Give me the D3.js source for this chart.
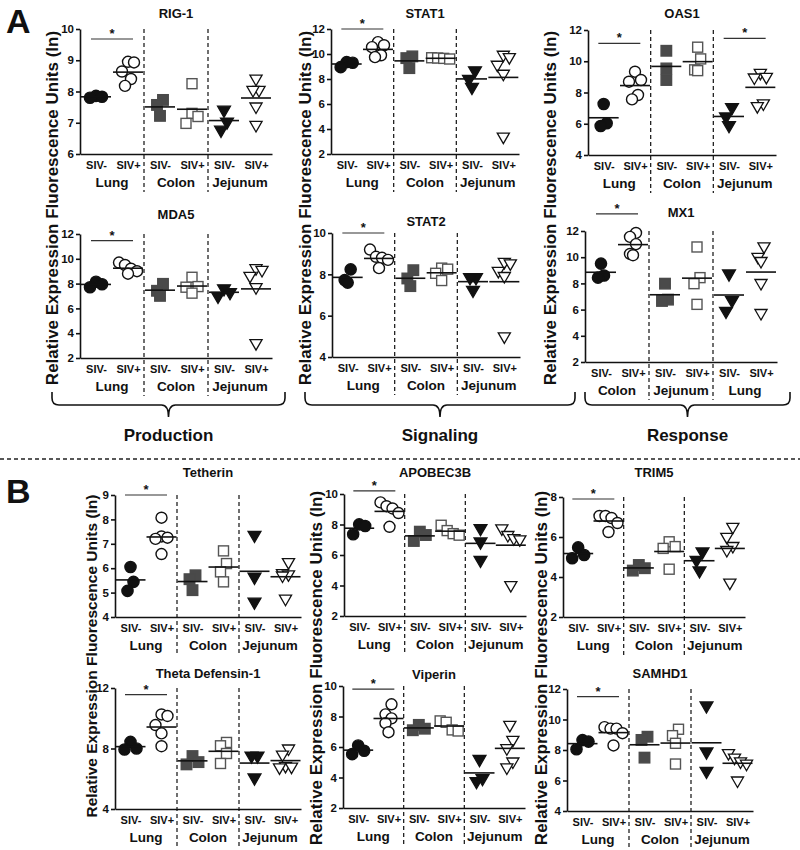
<!DOCTYPE html>
<html><head><meta charset="utf-8">
<script src="https://cdn.jsdelivr.net/npm/d3@7/dist/d3.min.js"></script>
<style>
body{margin:0;background:#fff}
text{font-family:Arial,"Liberation Sans",sans-serif;font-weight:bold;fill:#111}
</style>
</head><body>
<svg id="c" width="800" height="850"></svg>
<script>
// ---------------- DATA ----------------
const groupLabels = ["SIV-", "SIV+"];
const tissues = ["Lung", "Colon", "Jejunum"];
const tissuesMX1 = ["Colon", "Jejunum", "Lung"];
const genes = ["RIG-1","STAT1","OAS1","MDA5","STAT2","MX1","Tetherin","APOBEC3B","TRIM5","Theta Defensin-1","Viperin","SAMHD1"];
const categoryGroups = ["Production", "Signaling", "Response"];
const yLabel = "Relative Expression Fluorescence Units (ln)";

// six columns per gene: tissue1 SIV-, tissue1 SIV+, tissue2 SIV-, tissue2 SIV+, tissue3 SIV-, tissue3 SIV+
const rig1Values = [[7.86,7.83,7.80],[8.95,8.93,8.64,8.40,8.18],[7.73,7.57,7.22],[8.25,7.30,7.20,6.98],[7.41,7.03,6.77],[8.41,8.05,8.05,7.52,6.93]];
const stat1Values = [[9.35,9.30,8.95],[10.95,10.70,10.55,9.90,9.75],[9.81,9.67,8.87],[9.70,9.68,9.65,9.60],[8.68,7.99,7.35],[9.94,9.75,9.14,8.42,3.39]];
const oas1Values = [[7.26,6.03,5.86],[9.33,8.80,8.69,7.84,7.56],[10.67,9.54,8.80],[10.90,10.15,9.45,9.40],[7.05,6.45,5.90],[9.26,9.00,8.96,7.30,7.13]];
const mda5Values = [[8.15,7.95,7.70],[9.70,9.50,9.20,9.00,8.80],[7.98,7.42,7.01],[8.51,7.76,7.71,7.23],[7.60,7.30,7.00],[9.24,9.10,8.62,7.71,3.20]];
const stat2Values = [[8.24,7.72,7.60],[9.20,8.85,8.80,8.70,8.30],[8.20,7.80,7.43],[8.30,8.25,8.05,7.70],[7.85,7.85,7.24],[8.60,8.53,8.17,7.92,5.00]];
const mx1Values = [[9.51,8.60,8.44],[11.85,11.55,11.00,10.25,10.15],[7.98,6.76,6.66],[10.78,8.44,7.98,6.40],[8.74,6.71,5.89],[10.83,10.02,9.71,8.03,5.74]];
const tetherinValues = [[6.05,5.44,5.07],[8.07,7.30,7.25,7.20,6.58],[5.71,5.55,5.10],[6.71,6.19,5.85,5.44],[7.36,5.64,4.62],[6.25,5.80,5.75,5.70,4.75]];
const apobec3bValues = [[8.01,7.90,7.36],[9.45,9.20,9.05,8.75,7.85],[7.53,7.31,6.92],[7.95,7.60,7.40,7.30],[7.75,6.87,5.67],[7.75,7.31,7.10,7.03,4.03]];
const trim5Values = [[5.48,5.10,4.94],[7.05,7.05,6.95,6.70,6.25],[4.60,4.44,4.32],[5.76,5.52,5.43,4.39],[5.27,4.85,4.32],[6.51,6.01,5.55,5.35,3.72]];
const thetaValues = [[8.44,8.00,7.93],[10.25,10.15,9.55,9.00,8.15],[7.50,7.10,6.95],[8.40,8.18,7.67,7.01],[7.52,7.52,6.07],[8.00,7.60,6.85,6.80,6.75]];
const viperinValues = [[6.10,5.75,5.53],[8.80,8.14,7.88,7.56,6.97],[7.45,7.20,7.10],[7.71,7.62,7.12,7.05],[5.20,3.95,3.75],[7.45,6.47,5.92,5.05,4.66]];
const samhd1Values = [[8.65,8.55,8.05],[9.50,9.40,9.40,9.10,8.30],[8.87,8.66,7.50],[9.36,8.94,8.44,7.08],[10.91,7.89,6.62],[7.80,7.50,7.25,7.10,6.00]];

const rig1Ticks = [6,7,8,9,10];
const stat1Ticks = [2,4,6,8,10,12];
const oas1Ticks = [4,6,8,10,12];
const mda5Ticks = [2,4,6,8,10,12];
const stat2Ticks = [4,6,8,10];
const mx1Ticks = [2,4,6,8,10,12];
const tetherinTicks = [4,5,6,7,8,9];
const apobec3bTicks = [2,4,6,8,10];
const trim5Ticks = [2,4,6,8];
const thetaTicks = [4,8,12];
const viperinTicks = [2,4,6,8,10];
const samhd1Ticks = [4,6,8,10,12];

// significance: tissue index with "*" and level (data units) of the bar
const sigTissues = [[0],[0],[0,2],[0],[0],[0],[0],[0],[0],[0],[0],[0]];
const sigLevels = [[9.68],[12],[11.14,11.46],[11.46],[10],[13.3],[9],[10.2],[7.9],[11.56],[9.8],[11.5]];

// ---------------- LAYOUT ----------------
const valueSets = [rig1Values,stat1Values,oas1Values,mda5Values,stat2Values,mx1Values,tetherinValues,apobec3bValues,trim5Values,thetaValues,viperinValues,samhd1Values];
const tickSets = [rig1Ticks,stat1Ticks,oas1Ticks,mda5Ticks,stat2Ticks,mx1Ticks,tetherinTicks,apobec3bTicks,trim5Ticks,thetaTicks,viperinTicks,samhd1Ticks];
const tissueSets = [tissues,tissues,tissues,tissues,tissues,tissuesMX1,tissues,tissues,tissues,tissues,tissues,tissues];

const frames = [
  {left:80, top:29, bottom:154, width:192, titleY:18},
  {left:331,top:29, bottom:154, width:188, titleY:18},
  {left:588,top:30, bottom:155, width:188, titleY:18},
  {left:80, top:234,bottom:358, width:192, titleY:219},
  {left:332,top:233,bottom:357, width:188, titleY:226},
  {left:585,top:231,bottom:362, width:192, titleY:217},
  {left:115,top:495,bottom:617, width:186, titleY:477},
  {left:344,top:494,bottom:616, width:182, titleY:477},
  {left:563,top:497,bottom:617, width:182, titleY:477},
  {left:115,top:688,bottom:809, width:186, titleY:678},
  {left:343,top:686,bottom:808, width:182, titleY:679},
  {left:567,top:689,bottom:811, width:186, titleY:678}
];

const svg = d3.select("#c");

// GraphPad-like spreading: points closer than one marker height share a row and are spread sideways
function spread(vals, y, rowH, step) {
  const order = vals.map((v,i)=>i).sort((a,b)=>vals[b]-vals[a]);
  const off = new Array(vals.length).fill(0);
  let cluster = [];
  const flush = () => {
    const n = cluster.length;
    const pattern = d3.range(n).map(k => (k - (n-1)/2)*step);
    const arranged = n===3 ? [pattern[1],pattern[2],pattern[0]] : n===2 ? [pattern[1],pattern[0]] : pattern;
    cluster.forEach((i,k) => off[i] = arranged[k]);
    cluster = [];
  };
  order.forEach(i => {
    if (cluster.length && Math.abs(y(vals[i]) - y(vals[cluster[0]])) >= rowH) flush();
    cluster.push(i);
  });
  flush();
  return off;
}

function drawPanel(idx) {
  const f = frames[idx], vals = valueSets[idx], ticks = tickSets[idx], tn = tissueSets[idx];
  const g = svg.append("g");
  const y = d3.scaleLinear().domain(d3.extent(ticks)).range([f.bottom, f.top]);
  const x = d3.scalePoint().domain(d3.range(6)).range([f.left, f.left+f.width]).padding(0.5);

  g.append("text").attr("x", f.left+f.width/2).attr("y", f.titleY).attr("text-anchor","middle")
    .style("font-size","13px").text(genes[idx]);

  [[1,2],[3,4]].forEach(([a,b]) => {
    const xx = (x(a)+x(b))/2;
    g.append("line").attr("x1",xx).attr("x2",xx).attr("y1",f.top).attr("y2",f.bottom+38)
      .attr("stroke","#222").attr("stroke-width",1.3).attr("stroke-dasharray","4,3");
  });

  const ya = g.append("g").attr("transform",`translate(${f.left},0)`)
    .call(d3.axisLeft(y).tickValues(ticks).tickSize(4).tickSizeOuter(0).tickPadding(2).tickFormat(d3.format("d")));
  ya.select(".domain").attr("stroke","#111").attr("stroke-width",1.6);
  ya.selectAll(".tick line").attr("stroke","#111").attr("stroke-width",1.6);
  ya.selectAll(".tick text").style("font-size","11.5px").style("font-family","Arial, 'Liberation Sans', sans-serif").style("font-weight","bold").attr("fill","#111");

  const xa = g.append("g").attr("transform",`translate(0,${f.bottom})`)
    .call(d3.axisBottom(x).tickSize(0).tickSizeOuter(0).tickPadding(7).tickFormat(i => groupLabels[i%2]));
  xa.select(".domain").attr("stroke","#111").attr("stroke-width",1.6);
  xa.selectAll(".tick text").style("font-size","11px").style("font-family","Arial, 'Liberation Sans', sans-serif").style("font-weight","bold").attr("fill","#111");

  tn.forEach((t,k) => {
    g.append("text").attr("x",(x(2*k)+x(2*k+1))/2).attr("y",f.bottom+33).attr("text-anchor","middle")
      .style("font-size","13.5px").text(t);
  });

  vals.forEach((arr, i) => {
    const shape = Math.floor(i/2), filled = i%2===0;
    const offs = spread(arr, y, 11, 6);
    const col = shape===1 ? "#4a4a4a" : "#111";
    arr.forEach((v,j) => {
      const cx = x(i)+offs[j], cy = y(v);
      if (shape===0) {
        g.append("circle").attr("cx",cx).attr("cy",cy).attr("r", filled?5.6:5.5)
          .attr("fill", filled?col:"#fff").attr("stroke",col).attr("stroke-width",1.4);
      } else if (shape===1) {
        const s = filled?10.5:10;
        g.append("rect").attr("x",cx-s/2).attr("y",cy-s/2).attr("width",s).attr("height",s)
          .attr("fill", filled?col:"#fff").attr("stroke", filled?col:"#555").attr("stroke-width",1.4);
      } else {
        g.append("path").attr("d", d3.symbol(d3.symbolTriangle, filled?72:64)())
          .attr("transform",`translate(${cx},${cy}) rotate(180)`)
          .attr("fill", filled?col:"#fff").attr("stroke",col).attr("stroke-width",1.3);
      }
    });
    const m = d3.mean(arr);
    g.append("line").attr("x1",x(i)-15).attr("x2",x(i)+15).attr("y1",y(m)).attr("y2",y(m))
      .attr("stroke","#111").attr("stroke-width",1.6);
  });

  sigTissues[idx].forEach((t,k) => {
    const mid = (x(2*t)+x(2*t+1))/2, yy = y(sigLevels[idx][k]);
    g.append("line").attr("x1",mid-21).attr("x2",mid+21).attr("y1",yy).attr("y2",yy)
      .attr("stroke","#333").attr("stroke-width",1.2);
    g.append("text").attr("x",mid).attr("y",yy-1).attr("text-anchor","middle").style("font-size","13px").text("*");
  });
}

genes.forEach((_,i) => drawPanel(i));

const yTitlePos = [
  {x:52, y:208, fs:17},{x:305, y:208, fs:17},{x:550, y:208, fs:17},
  {x:91, y:656, fs:15.5},{x:316, y:668, fs:17},{x:541, y:668, fs:17}
];
yTitlePos.forEach(p => {
  svg.append("text").attr("transform",`translate(${p.x},${p.y}) rotate(-90)`)
    .attr("text-anchor","middle").attr("dominant-baseline","central")
    .style("font-size",p.fs+"px").text(yLabel);
});

const braces = [{x0:52,x1:285},{x0:305,x1:575},{x0:585,x1:790}];
braces.forEach((b,i) => {
  const yt=392, yl=405, yd=417, mid=(b.x0+b.x1)/2, r=7;
  const p = d3.path();
  p.moveTo(b.x0, yt);
  p.lineTo(b.x0, yl-r); p.quadraticCurveTo(b.x0, yl, b.x0+r, yl);
  p.lineTo(mid-r, yl); p.quadraticCurveTo(mid, yl, mid, yd);
  p.moveTo(mid, yd); p.quadraticCurveTo(mid, yl, mid+r, yl);
  p.lineTo(b.x1-r, yl); p.quadraticCurveTo(b.x1, yl, b.x1, yl-r); p.lineTo(b.x1, yt);
  svg.append("path").attr("d",p.toString()).attr("fill","none").attr("stroke","#111").attr("stroke-width",1.6);
  svg.append("text").attr("x",mid).attr("y",441).attr("text-anchor","middle").style("font-size","17px").text(categoryGroups[i]);
});

svg.append("line").attr("x1",0).attr("x2",800).attr("y1",459).attr("y2",459)
  .attr("stroke","#222").attr("stroke-width",1.3).attr("stroke-dasharray","4,3");

svg.append("text").attr("x",6).attr("y",33).style("font-size","34px").text("A");
svg.append("text").attr("x",6).attr("y",503).style("font-size","34px").text("B");
</script>
</body></html>
